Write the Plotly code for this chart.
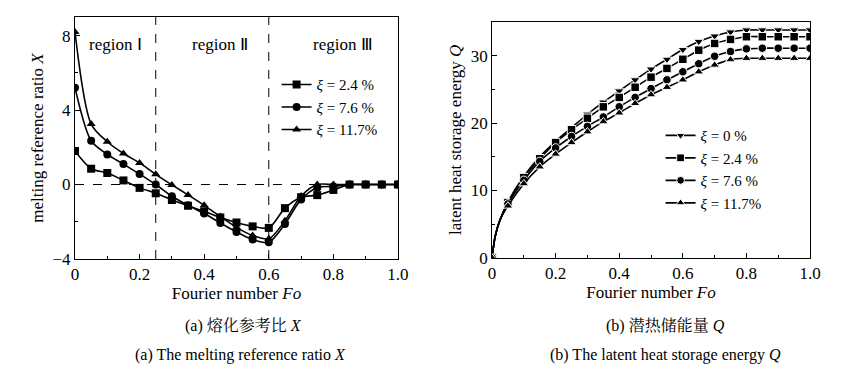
import plotly.graph_objects as go

# ---------------- data ----------------
Fo = [0, 0.05, 0.10, 0.15, 0.20, 0.25, 0.30, 0.35, 0.40, 0.45, 0.50,
      0.55, 0.60, 0.65, 0.70, 0.75, 0.80, 0.85, 0.90, 0.95, 1.00]

# (a) melting reference ratio X
X_24 = [1.8, 0.85, 0.62, 0.22, -0.18, -0.47, -0.83, -1.14, -1.44, -1.77, -2.04,
        -2.25, -2.33, -1.27, -0.68, -0.57, -0.29, 0, 0, 0, 0]
X_76 = [5.2, 2.35, 1.62, 1.10, 0.56, 0.0, -0.63, -1.12, -1.56, -2.07, -2.55,
        -2.95, -3.10, -2.12, -0.80, -0.17, -0.10, 0, 0, 0, 0]
X_117 = [8.2, 3.25, 2.30, 1.67, 1.16, 0.55, -0.02, -0.56, -1.12, -1.72, -2.30,
         -2.74, -2.92, -1.95, -0.62, 0.0, 0.0, 0, 0, 0, 0]

# (b) latent heat storage energy Q
Fo_near_origin = [0.01, 0.025]
Q_near_origin = [3.2, 5.6]
Q_0 = [0, 8.3, 12.1, 15.0, 17.3, 19.3, 21.3, 23.1, 24.75, 26.4, 28.0,
       29.45, 30.9, 32.1, 32.9, 33.5, 33.8, 33.8, 33.8, 33.8, 33.8]
Q_24 = [0, 8.2, 11.9, 14.7, 17.1, 19.0, 20.7, 22.4, 23.8, 25.3, 26.8,
        28.1, 29.45, 30.8, 31.8, 32.4, 32.8, 32.8, 32.8, 32.8, 32.8]
Q_76 = [0, 8.0, 11.5, 14.3, 16.3, 18.0, 19.5, 20.9, 22.4, 23.8, 25.1,
        26.4, 27.6, 28.8, 29.9, 30.6, 31.0, 31.1, 31.1, 31.1, 31.1]
Q_117 = [0, 7.7, 11.0, 13.5, 15.4, 17.1, 18.7, 20.2, 21.5, 22.9, 24.2,
         25.3, 26.4, 27.6, 28.6, 29.4, 29.6, 29.6, 29.6, 29.6, 29.6]

labels_a = ["2.4", "7.6", "11.7"]
labels_b = ["0", "2.4", "7.6", "11.7"]
x_ticks = [0, 0.2, 0.4, 0.6, 0.8, 1.0]
x_ticktext = ["0", "0.2", "0.4", "0.6", "0.8", "1.0"]
regions = ["region Ⅰ", "region Ⅱ", "region Ⅲ"]
region_x = [0.125, 0.45, 0.83]
region_bounds = [0.25, 0.6]

# ---------------- style ----------------
SERIF = "Liberation Serif"
CJK = "Liberation Serif, Noto Serif CJK SC, Noto Sans CJK SC"
BLACK = "#000000"

fig = go.Figure()

sym_a = ["square", "circle", "triangle-up"]
for lab, ys, sym in zip(labels_a, [X_24, X_76, X_117], sym_a):
    name = "<i>ξ</i> = " + lab + ("%" if lab == "11.7" else " %")
    fig.add_trace(go.Scatter(
        x=Fo, y=ys, mode="lines+markers", name=name,
        line=dict(color=BLACK, width=1.6, shape="spline", smoothing=0.8),
        marker=dict(symbol=sym, size=8, color=BLACK),
        xaxis="x", yaxis="y", legend="legend"))

sym_b = ["triangle-down", "square", "circle", "triangle-up"]
for lab, ys, sym in zip(labels_b, [Q_0, Q_24, Q_76, Q_117], sym_b):
    name = "<i>ξ</i> = " + lab + ("%" if lab == "11.7" else " %")
    xs = [Fo[0]] + Fo_near_origin + Fo[1:]
    yv = [ys[0]] + Q_near_origin + ys[1:]
    sizes = [8.5] + [0] * len(Fo_near_origin) + [8.5] * (len(Fo) - 1)
    fig.add_trace(go.Scatter(
        x=xs, y=yv, mode="lines+markers", name=name,
        line=dict(color=BLACK, width=1.6, shape="spline", smoothing=0.8),
        marker=dict(symbol=sym, size=sizes, color=BLACK, opacity=1),
        xaxis="x2", yaxis="y2", legend="legend2"))

tickfont = dict(family=SERIF, size=17, color=BLACK)
titlefont = dict(family=SERIF, size=17, color=BLACK)

common_x = dict(range=[0, 1.0], tickvals=x_ticks, ticktext=x_ticktext,
                ticks="inside", ticklen=5, tickcolor=BLACK, showline=True,
                linecolor=BLACK, linewidth=1, mirror=True, showgrid=False,
                zeroline=False, tickfont=tickfont, automargin=False,
                minor=dict(tickmode="linear", tick0=0, dtick=0.1,
                           ticks="inside", ticklen=3, tickcolor=BLACK),
                title=dict(text="Fourier number <i>Fo</i>", font=titlefont,
                           standoff=0))

fig.update_layout(
    width=859, height=371,
    margin=dict(l=0, r=0, t=0, b=0),
    paper_bgcolor="white", plot_bgcolor="white",
    xaxis=dict(domain=[0.0873, 0.4633], anchor="y", **common_x),
    xaxis2=dict(domain=[0.5728, 0.943], anchor="y2", **common_x),
    yaxis=dict(domain=[0.302, 0.954], anchor="x", range=[-4, 9],
               tickvals=[-4, 0, 4, 8], ticks="inside", ticklen=5,
               tickcolor=BLACK, showline=True, linecolor=BLACK, linewidth=1,
               mirror=True, showgrid=False, zeroline=False, tickfont=tickfont,
               automargin=False,
               minor=dict(tickmode="linear", tick0=0, dtick=2,
                          ticks="inside", ticklen=3, tickcolor=BLACK),
               title=dict(text="melting reference ratio <i>X</i>",
                          font=titlefont, standoff=4)),
    yaxis2=dict(domain=[0.305, 0.941], anchor="x2", range=[0, 35],
                tickvals=[0, 10, 20, 30], ticks="inside", ticklen=5,
                tickcolor=BLACK, showline=True, linecolor=BLACK, linewidth=1,
                mirror=True, showgrid=False, zeroline=False, tickfont=tickfont,
                automargin=False,
                minor=dict(tickmode="linear", tick0=0, dtick=5,
                           ticks="inside", ticklen=3, tickcolor=BLACK),
                title=dict(text="latent heat storage energy <i>Q</i>",
                           font=titlefont, standoff=4)),
    legend=dict(x=0.322, y=0.816, xanchor="left", yanchor="top",
                bgcolor="rgba(0,0,0,0)", font=dict(family=SERIF, size=15, color=BLACK),
                tracegroupgap=0),
    legend2=dict(x=0.769, y=0.679, xanchor="left", yanchor="top",
                 bgcolor="rgba(0,0,0,0)", font=dict(family=SERIF, size=15, color=BLACK),
                 tracegroupgap=0),
)

# dashed reference lines
shapes = []
for xb in region_bounds:
    shapes.append(dict(type="line", xref="x", yref="y", x0=xb, x1=xb, y0=-4, y1=9,
                       line=dict(color=BLACK, width=1, dash="dash"), layer="below"))
shapes.append(dict(type="line", xref="x", yref="y", x0=0, x1=1.0, y0=0, y1=0,
                   line=dict(color=BLACK, width=1, dash="dash"), layer="below"))
fig.update_layout(shapes=shapes)

annotations = []
for txt, xr in zip(regions, region_x):
    annotations.append(dict(text=txt, x=xr, y=7.5, xref="x", yref="y",
                            showarrow=False, font=dict(family=SERIF, size=17, color=BLACK)))

captions = [
    ("(a) 熔化参考比 <i>X</i>", 243, 326),
    ("(a) The melting reference ratio <i>X</i>", 240, 355),
    ("(b) 潜热储能量 <i>Q</i>", 665, 326),
    ("(b) The latent heat storage energy <i>Q</i>", 665, 355),
]
for txt, px, py in captions:
    annotations.append(dict(text=txt, x=px / 859, y=1 - py / 371, xref="paper",
                            yref="paper", showarrow=False, xanchor="center",
                            yanchor="middle",
                            font=dict(family=CJK, size=16, color=BLACK)))
fig.update_layout(annotations=annotations)

fig.write_html("out.html", config={"displayModeBar": False},
               post_script="document.body.style.margin='0';")
